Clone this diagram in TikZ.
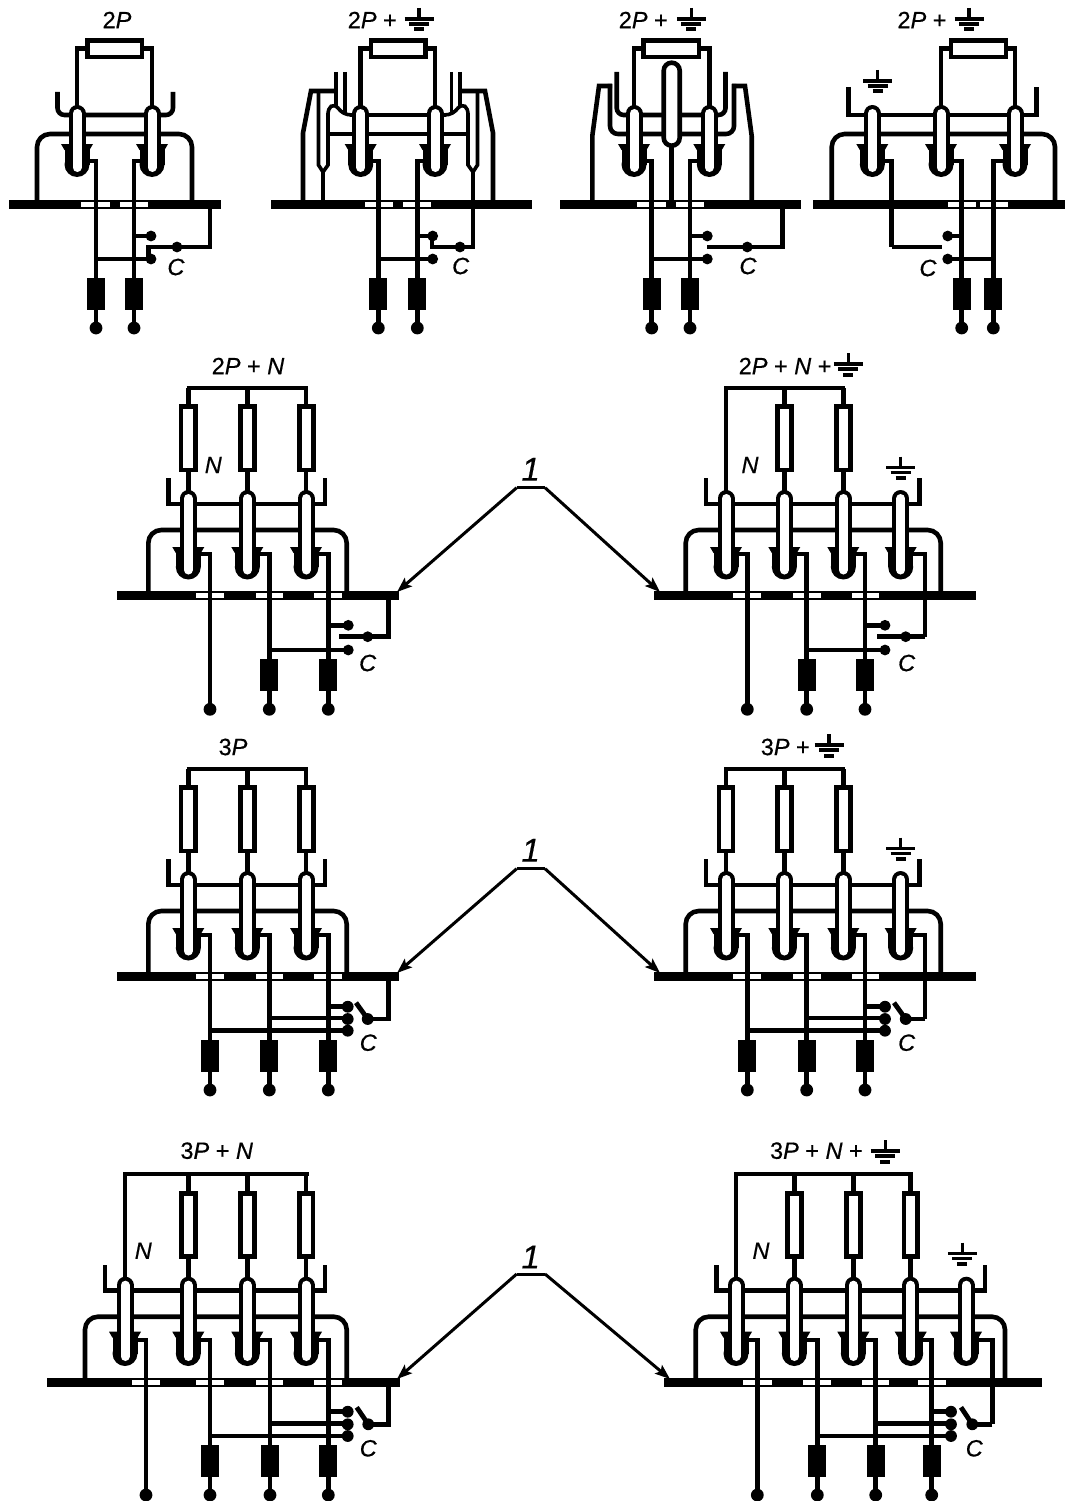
\documentclass[tikz,border=0pt]{standalone}
\usepackage{fontspec}
\setmainfont[FakeBold=0.5]{Liberation Sans}
\usetikzlibrary{arrows.meta}
\tikzset{
  w/.style={line width=4.6pt,line join=miter},
  th/.style={line width=3.6pt,line join=miter},
  lab/.style={inner sep=0pt,font=\fontsize{23.5}{25}\selectfont},
  num/.style={inner sep=0pt,font=\fontsize{33}{35}\selectfont\itshape},
  lead/.style={line width=3pt,-{Stealth[length=15pt,width=11pt,inset=3pt]}}
}
% bar: xl xr y
\newcommand\Bar[3]{\fill ({#1},{#3-4.4}) rectangle ({#2},{#3+4.4});}
\newcommand\Gap[3]{\fill[white] ({#1},{#3-2.3}) rectangle ({#2},{#3+2.3});}
% pole: x top barb bottom
\newcommand\Pole[4]{%
  \fill ({#1-12.5},{#3+3}) rectangle ({#1+12.5},{#4-12.5});
  \fill ({#1},{#4-12.5}) circle (12.5);
  \fill ({#1-16},{#3}) -- ({#1+16},{#3}) -- ({#1+12.5},{#3+6}) -- ({#1-12.5},{#3+6}) -- cycle;
  \draw[line width=17pt,line cap=round] ({#1},{#2+8.5}) -- ({#1},{#4-12.5});
  \draw[white,line width=9pt,line cap=round] ({#1},{#2+8.5}) -- ({#1},{#4-9.5});
}
% vertical resistor: x halfwidth top bottom
\newcommand\Res[4]{\draw[w,fill=white] ({#1-#2+2.3},{#3+2.3}) rectangle ({#1+#2-2.3},{#4-2.3});}
% block: x top bottom
\newcommand\Block[3]{\fill ({#1-9},{#2}) rectangle ({#1+9},{#3});}
\newcommand\Dot[3]{\fill ({#1},{#2}) circle ({#3+0.4});}
% earth: x top
\newcommand\Gnd[2]{%
  \draw[line width=3.4pt] ({#1},{#2}) -- ({#1},{#2+11});
  \draw[line width=3.4pt] ({#1-14.5},{#2+11}) -- ({#1+14.5},{#2+11});
  \draw[line width=3.4pt] ({#1-10},{#2+16}) -- ({#1+10},{#2+16});
  \draw[line width=4pt] ({#1-5},{#2+21.5}) -- ({#1+5},{#2+21.5});
}
% top-row horizontal resistor: xl xr poleL poleR
\newcommand\HRes[4]{%
  \draw[w] ({#3},110) -- ({#3},48.8) -- ({#1},48.8);
  \draw[w] ({#4},110) -- ({#4},48.8) -- ({#2},48.8);
  \draw[w,fill=white] ({#1+2},40.6) rectangle ({#2-2},57);
}
% exit wire: from pole edge x0 at y to wire x, down to end y
\newcommand\Exit[4]{\draw[w] ({#1},{#2}) -- ({#3},{#2}) -- ({#3},{#4}); }
% row 1 pole with usual dims
\newcommand\PoleA[1]{\Pole{#1}{105}{144}{177}}
\newcommand\PoleB[1]{\Pole{#1}{490}{547}{579.5}}
\newcommand\PoleC[1]{\Pole{#1}{1276.7}{1331.7}{1366}}
% common upper part of the 2P+N / 3P diagrams
\newcommand\UpThreeL{%
  \draw[w] (186.5,388) -- (308,388);
  \draw[w] (188.3,388) -- (188.3,500);
  \draw[w] (247.3,388) -- (247.3,500);
  \draw[w] (306,388) -- (306,500);
  \Res{188.3}{9.7}{404}{472.3}
  \Res{247.3}{9.2}{404}{472.3}
  \Res{306.5}{9.2}{404}{472.3}
  \draw[w] (168.3,478.3) -- (168.3,504) -- (325,504) -- (325,478.3);
  \draw[w,rounded corners=13pt] (148.3,595) -- (148.3,530) -- (346.7,530) -- (346.7,595);
}
\newcommand\PolesThreeL{\PoleB{188.3}\PoleB{247.3}\PoleB{306}}
\newcommand\UpFourR{%
  \draw[w] (706,478.3) -- (706,504) -- (919.3,504) -- (919.3,478.3);
  \draw[w,rounded corners=13pt] (685.7,595) -- (685.7,530) -- (940.7,530) -- (940.7,595);
}
\newcommand\PolesFourR{\PoleB{726}\PoleB{784.3}\PoleB{843.3}\PoleB{900.7}}
\begin{document}
\begin{tikzpicture}[x=1pt,y=-1pt]
\useasboundingbox (0,0) rectangle (1077,1501);
\fill[white] (0,0) rectangle (1077,1501);

%% ---------- A: 2P
\node[lab] (tA) at (117,20) {2\textit{P}};
\Bar{8.5}{221}{204.5}
\Gap{81}{109.5}{204.5}\Gap{120}{148}{204.5}
\HRes{85.5}{144}{77}{152}
\draw[w,rounded corners=7pt] (57.5,92) -- (57.5,115) -- (173,115) -- (173,92);
\draw[w,rounded corners=13pt] (37,204) -- (37,134) -- (192,134) -- (192,204);
\PoleA{77}\PoleA{152}
\Exit{85}{161}{96}{328}
\Exit{143}{161}{134}{328}
\draw[w] (134,236) -- (151,236);
\draw[w] (96,259) -- (151,259);
\draw[w] (148.5,259) -- (148.5,247) -- (210,247) -- (210,204);
\Dot{151}{236}{5}\Dot{151}{259}{5}\Dot{177}{247}{5}
\Block{96}{277.5}{310}\Block{134}{277.5}{310}
\Dot{96}{328}{6}\Dot{134}{328}{6}
\node[lab] (cA) at (176,267) {\textit{C}};

%% ---------- B: 2P + earth
\node[lab,anchor=east] (tB) at (397,20) {2\textit{P} +};
\Gnd{419}{8}
\Bar{271}{531.7}{204.5}
\Gap{365}{392.7}{204.5}\Gap{403.3}{431}{204.5}
\HRes{369}{427.7}{360.7}{435}
% frame
\draw[w] (303,204) -- (303,133) -- (311,91) -- (336,91);
\draw[w] (493,204) -- (493,133) -- (485,91) -- (460,91);
% narrow capsules
\draw[th] (318.5,91) -- (318.5,165) -- (323,172) -- (328,165) -- (328,113);
\draw[th] (477.5,91) -- (477.5,165) -- (473,172) -- (468,165) -- (468,113);
\draw[w] (323,172) -- (323,204);
% verticals
\draw[th] (336,72) -- (336,106);
\draw[th] (344.7,72) -- (344.7,115);
\draw[th] (460,72) -- (460,106);
\draw[th] (451.3,72) -- (451.3,115);
% hooks
\draw[th] (328,115) .. controls (328,106) and (333,103) .. (338,108) .. controls (341,112) and (345,115) .. (352,115);
\draw[th] (468,115) .. controls (468,106) and (463,103) .. (458,108) .. controls (455,112) and (451,115) .. (444,115);
\draw[w] (350,115) -- (446,115);
\draw[w] (328,134) -- (468,134);
\PoleA{360.7}\PoleA{435}
\Exit{369}{161}{378.3}{328}
\Exit{426}{161}{417.3}{328}
\draw[w] (473,172) -- (473,247) -- (432,247) -- (432,236);
\draw[w] (417.3,236) -- (432.7,236);
\draw[w] (378.3,259) -- (432.7,259);
\Dot{432.7}{236}{5}\Dot{432.7}{259}{5}\Dot{460}{247}{5}
\Block{378.3}{277.5}{310}\Block{417.3}{277.5}{310}
\Dot{378.3}{328}{6}\Dot{417.3}{328}{6}
\node[lab] (cB) at (460.7,266) {\textit{C}};

%% ---------- C: 2P + earth, central pole
\node[lab,anchor=east] (tC) at (668,20) {2\textit{P} +};
\Gnd{691.3}{8}
\Bar{560}{801}{204.5}
\Gap{637.3}{665.7}{204.5}\Gap{676}{704}{204.5}
\HRes{641.5}{701}{634}{709.3}
\draw[w] (592.3,204) -- (592.3,136) -- (599,86) -- (612,86);
\draw[w] (751.7,204) -- (751.7,136) -- (745,86) -- (732,86);
\draw[w,rounded corners=8pt] (610,84) -- (610,134) -- (734,134) -- (734,84);
\draw[w,rounded corners=7pt] (616.7,72) -- (616.7,115) -- (725.5,115) -- (725.5,72);
\PoleA{634}\PoleA{709.3}
\draw[w] (671.7,140) -- (671.7,204);
\draw[w,fill=white,rounded corners=8pt] (663.7,62.7) rectangle (679.7,145.7);
\Exit{643}{161}{651.7}{328}
\Exit{700}{161}{690}{328}
\draw[w] (690,236) -- (707.3,236);
\draw[w] (651.7,259) -- (707.3,259);
\draw[w] (707.3,247) -- (782.3,247) -- (782.3,204);
\Dot{707.3}{236}{5}\Dot{707.3}{259}{5}\Dot{747.3}{247}{5}
\Block{651.7}{277.5}{310}\Block{690}{277.5}{310}
\Dot{651.7}{328}{6}\Dot{690}{328}{6}
\node[lab] (cC) at (748,266) {\textit{C}};

%% ---------- D: 2P + earth, side pole
\node[lab,anchor=east] (tD) at (946.7,20) {2\textit{P} +};
\Gnd{969}{8}
\Bar{813}{1065}{204.5}
\Gap{948.3}{976}{204.5}\Gap{980}{1007.7}{204.5}
\HRes{949}{1008}{941}{1015}
\draw[w] (848.3,87) -- (848.3,115) -- (1036.7,115) -- (1036.7,87);
\draw[w,rounded corners=13pt] (831.7,204) -- (831.7,134) -- (1055,134) -- (1055,204);
\Gnd{877.7}{70}
\PoleA{872.3}\PoleA{941}\PoleA{1015}
\Exit{880}{161}{891.7}{247}
\draw[w] (891.7,247) -- (942,247);
\Exit{950}{161}{961.7}{328}
\Exit{1005}{161}{993.3}{328}
\draw[w] (961.7,236) -- (947.7,236);
\draw[w] (993.3,259) -- (947.7,259);
\Dot{947.7}{236}{5}\Dot{947.7}{259}{5}
\Block{961.7}{277.5}{310}\Block{993.3}{277.5}{310}
\Dot{961.7}{328}{6}\Dot{993.3}{328}{6}
\node[lab] (cD) at (928,268) {\textit{C}};

%% ---------- E: 2P + N
\node[lab] (tE) at (248,366) {2\textit{P} + \textit{N}};
\node[lab] (nE) at (213.3,465) {\textit{N}};
\Bar{116.7}{399.3}{595.5}
\Gap{196}{224}{595.5}\Gap{256}{283.3}{595.5}\Gap{314}{341.7}{595.5}
\UpThreeL
\PolesThreeL
\Exit{197}{554}{210}{709.3}
\Exit{256}{554}{269.3}{709.3}
\Exit{315}{554}{328.3}{709.3}
\draw[w] (328.3,625.3) -- (348,625.3);
\draw[w] (269.3,650) -- (348,650);
\draw[w] (339.3,636.7) -- (388.3,636.7) -- (388.3,596);
\Dot{348.3}{625.3}{5}\Dot{348.3}{650}{5}\Dot{367.7}{636.7}{5}
\Block{269.3}{659}{690.7}\Block{328.3}{659}{690.7}
\Dot{210}{709.3}{6}\Dot{269.3}{709.3}{6}\Dot{328.3}{709.3}{6}
\node[lab] (cE) at (367.7,663) {\textit{C}};

%% ---------- F: 2P + N + earth
\node[lab,anchor=east] (tF) at (831.7,366) {2\textit{P} + \textit{N} +};
\Gnd{848.3}{353}
\node[lab] (nF) at (750,465) {\textit{N}};
\Bar{654}{976}{595.5}
\Gap{732.7}{760.7}{595.5}\Gap{793.3}{821}{595.5}\Gap{851.7}{879.3}{595.5}
\draw[w] (724,388) -- (845.3,388);
\draw[w] (726,386) -- (726,500);
\draw[w] (784.3,388) -- (784.3,500);
\draw[w] (843.3,388) -- (843.3,500);
\Res{784.3}{9.2}{404}{472.3}
\Res{843.3}{9.2}{404}{472.3}
\Gnd{900.7}{456.7}
\UpFourR
\PolesFourR
\Exit{734}{554}{747.3}{709.3}
\Exit{792}{554}{806.7}{709.3}
\Exit{851}{554}{865}{709.3}
\Exit{909}{554}{925}{636.7}
\draw[w] (925,636.7) -- (876.7,636.7);
\draw[w] (865,625.3) -- (885,625.3);
\draw[w] (806.7,650) -- (885,650);
\Dot{885}{625.3}{5}\Dot{885}{650}{5}\Dot{905.7}{636.7}{5}
\Block{806.7}{659}{690.7}\Block{865}{659}{690.7}
\Dot{747.3}{709.3}{6}\Dot{806.7}{709.3}{6}\Dot{865}{709.3}{6}
\node[lab] (cF) at (906.7,663) {\textit{C}};

%% leaders, row 2
\node[num] (oneA) at (530.7,469.3) {1};
\coordinate (lA) at (516.7,487.7); \coordinate (rA) at (545,487.7);
\coordinate (tlA) at (397,592); \coordinate (trA) at (660,592);
\draw[line width=3pt] (lA) -- (rA);
\draw[lead] (lA) -- (tlA);
\draw[lead] (rA) -- (trA);

%% ---------- G: 3P
\node[lab] (tG) at (233,747) {3\textit{P}};
\Bar{116.7}{399.3}{976.5}
\Gap{196}{224}{976.5}\Gap{256}{283.3}{976.5}\Gap{314}{341.7}{976.5}
\begin{scope}[yshift=-381pt]
\UpThreeL
\PolesThreeL
\end{scope}
\Exit{197}{935}{210}{1090}
\Exit{256}{935}{269.3}{1090}
\Exit{315}{935}{328.3}{1090}
\draw[w] (328.3,1006.7) -- (347.7,1006.7);
\draw[w] (269.3,1018) -- (347.7,1018);
\draw[w] (210,1030.7) -- (347.7,1030.7);
\draw[w] (367.7,1019) -- (388.3,1019) -- (388.3,977);
\draw[line width=4.8pt] (367.7,1019) -- (356,1002.7);
\Dot{347.7}{1006.7}{5.5}\Dot{347.7}{1019}{5.5}\Dot{347.7}{1030.7}{5.5}\Dot{367.7}{1019}{5.5}
\Block{210}{1039.5}{1071.7}\Block{269.3}{1039.5}{1071.7}\Block{328.3}{1039.5}{1071.7}
\Dot{210}{1090}{6}\Dot{269.3}{1090}{6}\Dot{328.3}{1090}{6}
\node[lab] (cG) at (368.3,1042.7) {\textit{C}};

%% ---------- H: 3P + earth
\node[lab,anchor=east] (tH) at (810,747) {3\textit{P} +};
\Gnd{829}{734}
\Bar{654}{976}{976.5}
\Gap{732.7}{760.7}{976.5}\Gap{793.3}{821}{976.5}\Gap{851.7}{879.3}{976.5}
\begin{scope}[yshift=-381pt]
\draw[w] (724,388) -- (845.3,388);
\draw[w] (726,386) -- (726,500);
\draw[w] (784.3,388) -- (784.3,500);
\draw[w] (843.3,388) -- (843.3,500);
\Res{726}{9.2}{404}{472.3}
\Res{784.3}{9.2}{404}{472.3}
\Res{843.3}{9.2}{404}{472.3}
\Gnd{900.7}{456.7}
\UpFourR
\PolesFourR
\end{scope}
\Exit{734}{935}{747.3}{1090}
\Exit{792}{935}{806.7}{1090}
\Exit{851}{935}{865}{1090}
\Exit{909}{935}{925}{1019}
\draw[w] (925,1019) -- (905.7,1019);
\draw[line width=4.8pt] (905.7,1019) -- (894,1002.7);
\draw[w] (865,1006.7) -- (885,1006.7);
\draw[w] (806.7,1018) -- (885,1018);
\draw[w] (747.3,1030.7) -- (885,1030.7);
\Dot{885}{1006.7}{5.5}\Dot{885}{1019}{5.5}\Dot{885}{1030.7}{5.5}\Dot{905.7}{1019}{5.5}
\Block{747.3}{1039.5}{1071.7}\Block{806.7}{1039.5}{1071.7}\Block{865}{1039.5}{1071.7}
\Dot{747.3}{1090}{6}\Dot{806.7}{1090}{6}\Dot{865}{1090}{6}
\node[lab] (cH) at (906.7,1042.7) {\textit{C}};

%% leaders, row 3
\node[num] (oneB) at (530.7,850.3) {1};
\coordinate (lB) at (516.7,868.7); \coordinate (rB) at (545,868.7);
\coordinate (tlB) at (397,973); \coordinate (trB) at (660,973);
\draw[line width=3pt] (lB) -- (rB);
\draw[lead] (lB) -- (tlB);
\draw[lead] (rB) -- (trB);

%% ---------- I: 3P + N
\node[lab] (tI) at (216.7,1150.7) {3\textit{P} + \textit{N}};
\node[lab] (nI) at (143.3,1250.7) {\textit{N}};
\Bar{46.7}{400}{1382.5}
\Gap{132.3}{160}{1382.5}\Gap{196}{224}{1382.5}\Gap{256}{283.3}{1382.5}\Gap{314}{341.7}{1382.5}
\draw[w] (123,1174) -- (308.5,1174);
\draw[w] (125,1172) -- (125,1285);
\draw[w] (188.3,1174) -- (188.3,1285);
\draw[w] (247.3,1174) -- (247.3,1285);
\draw[w] (306,1174) -- (306,1285);
\Res{188.3}{9.2}{1191}{1258.5}
\Res{247.3}{9.2}{1191}{1258.5}
\Res{306.2}{9.2}{1191}{1258.5}
\draw[w] (105,1265) -- (105,1290.7) -- (325,1290.7) -- (325,1265);
\draw[w,rounded corners=13pt] (85,1382) -- (85,1316.7) -- (346.7,1316.7) -- (346.7,1382);
\PoleC{125}\PoleC{188.3}\PoleC{247.3}\PoleC{306}
\Exit{133}{1340}{146}{1495}
\Exit{196}{1340}{210}{1495}
\Exit{255}{1340}{270}{1495}
\Exit{314}{1340}{328.3}{1495}
\draw[w] (328.3,1411.7) -- (347.7,1411.7);
\draw[w] (270,1423.5) -- (347.7,1423.5);
\draw[w] (210,1436) -- (347.7,1436);
\draw[w] (368.3,1424.3) -- (388.3,1424.3) -- (388.3,1383);
\draw[line width=4.8pt] (368.3,1424.3) -- (356.7,1407.3);
\Dot{347.7}{1411.7}{5.5}\Dot{347.7}{1424.3}{5.5}\Dot{347.7}{1436}{5.5}\Dot{368.3}{1424.3}{5.5}
\Block{210}{1445}{1476.7}\Block{270}{1445}{1476.7}\Block{328.3}{1445}{1476.7}
\Dot{146}{1495}{6}\Dot{210}{1495}{6}\Dot{270}{1495}{6}\Dot{328.3}{1495}{6}
\node[lab] (cI) at (368.3,1448.3) {\textit{C}};

%% ---------- J: 3P + N + earth
\node[lab,anchor=east] (tJ) at (863,1150.7) {3\textit{P} + \textit{N} +};
\Gnd{885.3}{1140}
\node[lab] (nJ) at (761,1250.7) {\textit{N}};
\Bar{664.3}{1042.3}{1382.5}
\Gap{743.3}{771.7}{1382.5}\Gap{803.3}{831}{1382.5}\Gap{861.7}{889.3}{1382.5}\Gap{917.7}{945.7}{1382.5}
\draw[w] (734,1174) -- (912.7,1174);
\draw[w] (736,1172) -- (736,1285);
\draw[w] (794.3,1174) -- (794.3,1285);
\draw[w] (853.3,1174) -- (853.3,1285);
\draw[w] (910.7,1174) -- (910.7,1285);
\Res{794.3}{9.2}{1191}{1258.5}
\Res{853.3}{9.2}{1191}{1258.5}
\Res{910.7}{9.2}{1191}{1258.5}
\Gnd{962.3}{1242.7}
\draw[w] (716.7,1265) -- (716.7,1290.7) -- (985,1290.7) -- (985,1265);
\draw[w,rounded corners=13pt] (695.7,1382) -- (695.7,1316.7) -- (1005,1316.7) -- (1005,1382);
\PoleC{736}\PoleC{794.3}\PoleC{853.3}\PoleC{910.7}\PoleC{966}
\Exit{744}{1340}{757.3}{1495}
\Exit{802}{1340}{817.3}{1495}
\Exit{861}{1340}{875.7}{1495}
\Exit{918}{1340}{931.7}{1495}
\Exit{974}{1340}{992.3}{1424.3}
\draw[w] (992.3,1424.3) -- (972.3,1424.3);
\draw[line width=4.8pt] (972.3,1424.3) -- (961,1407.3);
\draw[w] (931.7,1411.7) -- (951,1411.7);
\draw[w] (875.7,1423.5) -- (951,1423.5);
\draw[w] (817.3,1436) -- (951,1436);
\Dot{951}{1411.7}{5.5}\Dot{951}{1424.3}{5.5}\Dot{951}{1436}{5.5}\Dot{972.3}{1424.3}{5.5}
\Block{817.3}{1445}{1476.7}\Block{875.7}{1445}{1476.7}\Block{931.7}{1445}{1476.7}
\Dot{757.3}{1495}{6}\Dot{817.3}{1495}{6}\Dot{875.7}{1495}{6}\Dot{931.7}{1495}{6}
\node[lab] (cJ) at (974.3,1448.3) {\textit{C}};

%% leaders, row 4
\node[num] (oneC) at (530.7,1257) {1};
\coordinate (lC) at (516.7,1274); \coordinate (rC) at (545,1274);
\coordinate (tlC) at (397,1379); \coordinate (trC) at (670,1379);
\draw[line width=3pt] (lC) -- (rC);
\draw[lead] (lC) -- (tlC);
\draw[lead] (rC) -- (trC);
\end{tikzpicture}
\end{document}
